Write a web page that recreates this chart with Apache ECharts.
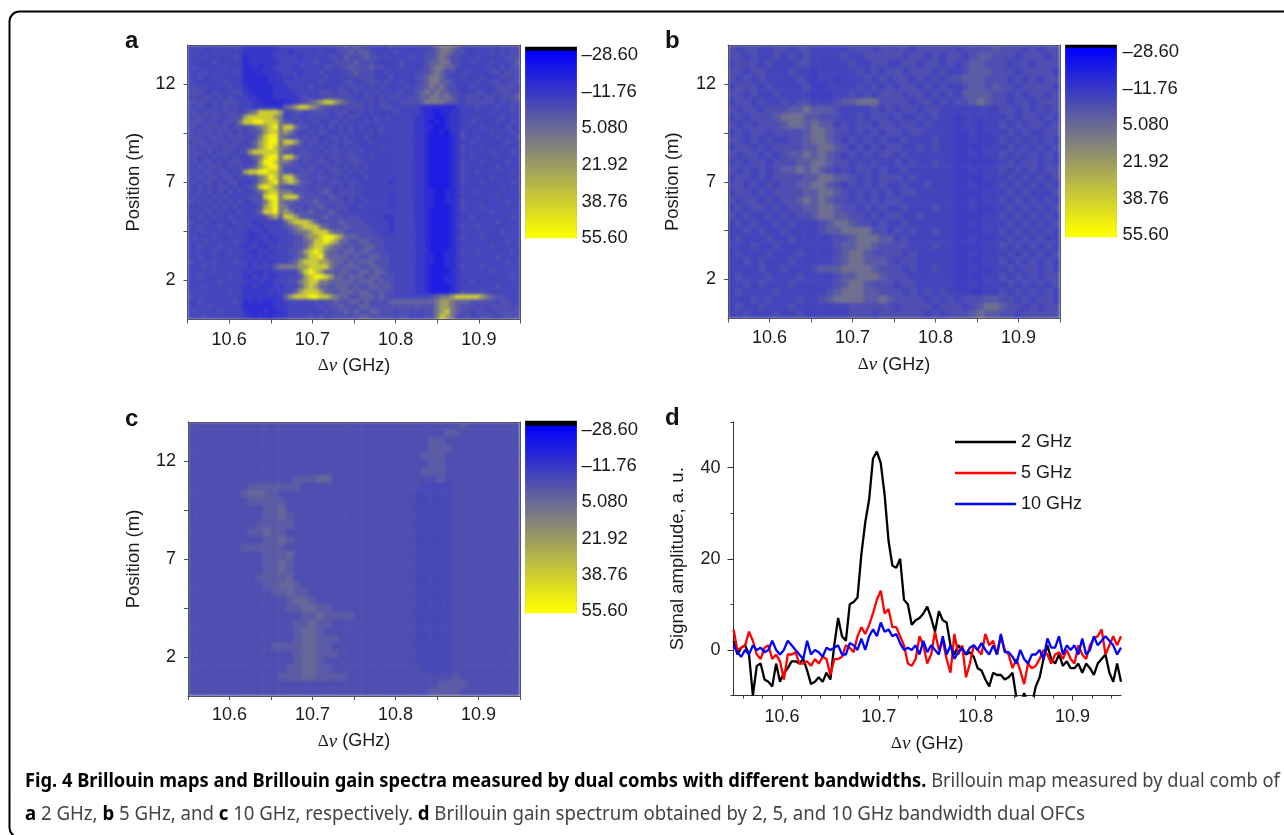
<!DOCTYPE html>
<html><head><meta charset="utf-8">
<style>html,body{margin:0;padding:0;background:#fff}#c{width:1284px;height:835px}</style>
<script src="https://cdn.jsdelivr.net/npm/echarts@6/dist/echarts.min.js"></script>
</head><body><div id="c"></div>
<script>
// Heat level lookups: digit in a map row -> value on the colour scale
const levelsA = [-21,-16,-12,-8,-4,2,10,22,38,52];
const levelsB = [-21,-16,-10,-8,-4,0,7,22,38,52];
const levelsC = [-21,-16,-10,-6.5,-4,0,4,22,38,52];
const mapA = [
"33433334343 22222223333 33333334454 54433334333 33334566654 33434334344",
"34333433333 22222233323 33334333445 45543333433 33344566544 33333434344",
"33343333343 12222233333 23333344354 44544343333 43344565443 33433333444",
"33333433333 12222223333 33343334444 54443333343 33345566443 34333433345",
"34333334333 11212233332 33333443445 44454433343 33345665543 33334334344",
"33343333343 11122223333 23334333344 54443343333 33445654433 43333443444",
"33433433333 11111222323 33333433434 44443334333 34456654334 33343334434",
"43333334333 11111222333 33334333344 33444343343 33456655433 33433443344",
"34343333433 21111122233 33433333434 44343433334 34456564433 34333344443",
"44433433344 22111122223 33334443443 43434343343 34565655443 33443344434",
"34344343433 32211122222 34333444444 33443434433 44556656543 44434434445",
"44443434443 33221111112 34567887654 44343443344 44566665543 44444434344",
"43433434343 33222221567 88765444344 44343444333 33211111123 33433343343",
"44344434443 45688887334 43344434443 34343333433 33211011223 33333433343",
"34443443444 78888876334 33434433434 43334343333 32211001223 33433334333",
"44434434446 88998886443 43343344343 33434333333 32210101223 34333343343",
"44344444344 44567896886 44334343434 34333433333 32211001223 33343333433",
"43444344434 34457886764 33434433434 33343433333 32210010224 33333433343",
"44434443444 43468996544 34343344343 33433333333 32210000124 33433343334",
"34443444344 34578996887 53443434344 33343333333 32210000123 34333333433",
"44344434443 44578986654 43434344343 43333433333 32210000124 33343334333",
"34434344434 47888886443 44343434434 34333333333 32210000124 33333433343",
"44343434343 34568996886 44434344344 43343333333 32210000123 34333343333",
"34344343444 33479986654 34344434434 44333333333 32210000124 33343333433",
"43434443434 34578996444 43443444343 43433333333 32210000124 33333343333",
"34344344343 78899886443 44434344434 34333333333 32210000124 33433333343",
"43434434434 34467986886 44344434343 33433333333 32210000124 33333433333",
"34344343443 33467896787 54434344434 43333332333 32210000124 33343333343",
"43434344343 34589875434 44344443434 34333333333 32210000123 33333334333",
"33434343434 33457886664 44434543444 43333333333 32211001124 33433333333",
"34343434333 34448996888 54444354434 34333332333 32211001123 33333343333",
"43434343434 33446896554 44454444434 33433333333 32211001124 33333333433",
"33343434343 33347896644 43445434443 34333332333 32211000124 33343333333",
"34334343334 33458896764 44544454343 33333333333 32210000123 33333433333",
"33433433433 33334675887 54444544434 43333322333 32210000123 34333333343",
"43343333343 33233333578 88754444544 44333332333 32210000123 33333343333",
"33433343334 33323333456 78886544454 44433332333 32210000124 33433333333",
"33343333433 32332333345 66788865544 44443332333 32210000123 33333334333",
"34333433333 32233233334 46778998755 54444333333 32210000124 33343333333",
"33343333343 32323323334 45688987554 45544433333 32210000123 33333333433",
"33433343333 23322333334 45788765545 44554433333 32210000123 33333433333",
"33333433433 32233233344 57898655455 45544433333 32210001124 33433333343",
"33433333333 23232333334 56889655554 54455443333 32211001123 33333343333",
"43333433343 32323233345 78887765545 45554443333 32211001123 33333333433",
"33343333333 32333356666 77888865455 54455443333 32210001124 33343333333",
"33333433333 23223233333 68987554554 45545543333 32210000123 33333433333",
"33433333433 22323223333 47899875545 55455444333 32210001123 33333333343",
"33333343333 32232233344 67886655555 45554544333 32210001123 34333333333",
"33343333333 22322232333 57875545554 54455454333 32210000123 33333343333",
"33333333433 22222323335 78887554555 45544544333 32210000124 33343333333",
"43333333333 22222222578 88998876554 45554543333 33334566788 88876544333",
"33433333343 12121122333 33343445445 54544445555 55555677655 54444434433",
"33334333333 11111122233 33334344544 45544444444 44444677654 44343444434",
"34333343333 21112112233 33333434454 54455444344 34344678654 43444344444",
"33343333333 22121122233 33434344444 45544444344 33344687643 43344434444"
];
const mapB = [
"43443344344 33333444344 44344444344 44544434344",
"44343343434 33334334444 43443434434 55444344434",
"34443433344 33333433443 34434434345 54443443444",
"44344333433 23333343434 43444343345 55444344443",
"43434333343 23323334343 44343434455 54443434344",
"34443433334 22333343434 34434343345 54544344443",
"44343343333 22233434344 43443434355 55443434434",
"34434334344 33345566644 44344343445 65443443444",
"43443444556 55543333434 34434433333 33344343434",
"34344456665 54443343443 43343433233 33334344343",
"43434445665 65534344344 34434333233 23343434434",
"34344344445 66544343434 43443333223 23334343344",
"44343433445 66543434343 34333433223 22343434343",
"34434344445 56654343434 43343433222 23334343434",
"43443434556 56543434344 34333333223 23343434343",
"34344344455 66544343433 43433433222 22334344343",
"43434345565 65434344343 34333333223 23343434344",
"34434344445 56655434344 43433333222 23334343434",
"44343434455 66543434343 34334333223 22343434343",
"34434344445 56654343434 34433333222 23334343334",
"43443434456 56544343434 43333333223 23343434343",
"34344343445 56654434343 34333433223 22334343434",
"43433434344 56655443434 43343333222 23343434343",
"34343343433 34566544343 34333333223 23334343434",
"33434334333 34556666443 43433433222 23343434343",
"34333433433 33344566655 34333333223 22334343433",
"33343343333 33345566544 44333433222 23343434343",
"34333433343 33345665444 43433333223 23334343434",
"33434333433 33345665554 34433333222 23343434343",
"33334334333 45556666544 43433433223 22334344343",
"34333433343 33345566654 44333333222 23343434344",
"33434333433 33345665444 34433333223 23334343434",
"34333343333 33456665544 43434343322 23343434343",
"33343433343 34566665565 44443434344 45544343443",
"34334333433 33333444444 34444344434 56654434344",
"33433343343 33333444344 44443434445 65544344444"
];
const mapC = [
"44444444444 44444444444 44444444444 44454444444",
"44444444444 44444444444 44444444444 45544444444",
"44444444444 44444444444 44444444445 54444444444",
"44444444444 44444444444 44444444445 55444444444",
"44444444444 44444444444 44444444455 54444444444",
"44444444444 44444444444 44444444445 54444444444",
"44444444444 44444444444 44444444455 54444444444",
"44444444444 44455566444 44444444444 54444444444",
"44444444555 55554444444 44444444433 33444444444",
"44444445665 54444444444 44444444333 33444444444",
"44444444555 55444444444 44444444333 33444444444",
"44444444445 56444444444 44444444333 33444444444",
"44444444445 56544444444 44444444333 33444444444",
"44444444455 55544444444 44444444333 33444444444",
"44444444556 55444444444 44444444333 33444444444",
"44444444445 56544444444 44444444333 33444444444",
"44444445555 55444444444 44444444333 33444444444",
"44444444445 55644444444 44444444333 33444444444",
"44444444445 56544444444 44444444333 33444444444",
"44444444445 56544444444 44444444333 33444444444",
"44444444455 55644444444 44444444333 33444444444",
"44444444445 56654444444 44444444333 33444444444",
"44444444444 55655444444 44444444333 33444444444",
"44444444444 44566544444 44444444333 33444444444",
"44444444444 44556655444 44444444333 33444444444",
"44444444444 44445565555 44444444333 33444444444",
"44444444444 44455655444 44444444333 33444444444",
"44444444444 44456654444 44444444333 33444444444",
"44444444444 44456655544 44444444333 33444444444",
"44444444444 55556655444 44444444333 33444444444",
"44444444444 44456655544 44444444333 33444444444",
"44444444444 44456654444 44444444333 33444444444",
"44444444444 44556655444 44444444433 33444444444",
"44444444444 45556655554 44444444444 44544444444",
"44444444444 44444444444 44444444444 55554444444",
"44444444444 44444444444 44444444445 55544444444"
];
const positionTicks = [2,4.5,7,9.5,12];
const positionLabels = [2,7,12];
const freqTicks = [10.55,10.6,10.65,10.7,10.75,10.8,10.85,10.9,10.95];
const freqLabels = [10.6,10.7,10.8,10.9];
const freqMinorTicks = [10.56,10.58,10.6,10.62,10.64,10.66,10.68,10.7,10.72,10.74,10.76,10.78,10.8,10.82,10.84,10.86,10.88,10.9,10.92,10.94];
const colorbarTicks = [-28.6,-11.76,5.08,21.92,38.76,55.6];
const colorbarLabels = ['–28.60','–11.76','5.080','21.92','38.76','55.60'];
const spectrumX0 = 10.55, spectrumStep = 0.004;
const gain2GHz = [2,-1,0.5,1,-1,-10,-3.5,-3,-6.5,-7,-8,-3,-7,-5,-4,-2.5,-2.5,-3,-2,-4.5,-7.5,-7,-6,-7,-5,-6.5,1,7,3,2,10,10.5,11.5,21,28,33,42,43.5,41,34,24,18.5,18,20,11,10,5.5,6.5,7,8,9.5,7,4,8.5,6.5,6,1,-1,1,0,-1,-0.5,-1.5,-4,-4.5,-6.5,-8,-5,-5.5,-5.5,-6.5,-6,-5,-10.5,-12,-9.5,-11.5,-12,-8,-6,-2,1,-2,-3,-1,-3.5,-2.5,-4,-4,-3,-5,-3,-4,-5.5,-3,-2,-1,-5,-7,-3,-7];
const gain5GHz = [4.5,0,0.5,1,4,2,-1,-2,0.5,1,-2,-1,-2.5,-6.5,-1,-1,-0.5,-3,-3,-2.5,-3.5,-2,-3,-1.5,-2,-5.5,-2,-2,-1.5,1,0.5,-0.5,3,5,3.5,5.5,8,11,13,8,9,5,5,3,1,-3,-3.5,-2,3,1,-3,-1,4,0,2,-2,-5,3.5,-1,1,-6,-3,1,0,-1,3.5,1,2,-1,3,0,-1,-4,-2,-4.5,-7.5,-3,-4,-3.5,-2,0,-1,-3,-1,-0.5,-2,0,-2,-3,1,-1,-2,1,2.5,3,4.5,-1,1,3,1,3];
const gain10GHz = [1,-0.5,-1.5,0,-1,1,0,0.5,-0.5,0,2,0,-1,0,2,1,0,-1,-2,2,-1,0,-0.5,-1.5,0.5,0,0.5,1,-1,-1,1.5,1,0,2.5,0,3,4.5,3,6,4,4.5,3,3.5,1.5,0,0.5,0,1,-1,2,-0.5,1,0,-1,3,-1,1,-2,-0.5,0.5,-1,0.5,1,0,1.5,0,-1,1,-1,3.5,-0.5,-0.5,-1.5,-3,0,-2,-3,-1,-1,0,-2,2.5,0.5,0.5,3,-1,1,0,1,-1,2.5,-1,0,3,1,2,3,2,1,-1,0.5];

const FONT='Liberation Sans', INK='#1a1a1a', FRAME='#555', FS=18, FSY=18.5;
const nameRich={s:{fontFamily:'Liberation Serif',fontSize:17,color:INK},i:{fontFamily:'Liberation Serif',fontStyle:'italic',fontSize:19,color:INK},t:{fontFamily:FONT,fontSize:FS,color:INK}};
const AXIS_NAME='{s|Δ}{i|ν}{t| (GHz)}';
const grid=[],xAxis=[],yAxis=[],series=[];
const levelsOf=(min,max,n)=>Array.from({length:n},(_,i)=>min+(i+.5)*(max-min)/n);
const offAxis=(g,pos,cats)=>({type:'category',gridIndex:g,position:pos,data:cats,zlevel:1,
  axisLine:{show:true,onZero:false,lineStyle:{color:FRAME,width:1}},axisTick:{show:false},axisLabel:{show:false},splitLine:{show:false}});
function heatPanel(rows,lookup,box,labelMargin,xNameGap,yNameGap){
  const clean=rows.map(r=>r.replace(/ /g,''));
  const nc=clean[0].length,nr=clean.length,g=grid.length;
  grid.push({left:box[0],top:box[1],width:box[2],height:box[3]});
  const xi=xAxis.length,yi=yAxis.length;
  xAxis.push(offAxis(g,'top',Array.from({length:nc},(_,i)=>i)));
  yAxis.push(Object.assign(offAxis(g,'right',Array.from({length:nr},(_,i)=>i)),{inverse:true}));
  xAxis.push({type:'value',gridIndex:g,position:'bottom',min:10.55,max:10.95,zlevel:1,
    axisLine:{show:true,onZero:false,lineStyle:{color:FRAME}},splitLine:{show:false},
    axisTick:{show:true,length:4,customValues:freqTicks,lineStyle:{color:FRAME}},
    axisLabel:{show:true,customValues:freqLabels,margin:labelMargin,formatter:v=>v.toFixed(1),fontFamily:FONT,fontSize:FS,color:INK},
    name:AXIS_NAME,nameLocation:'middle',nameGap:xNameGap,nameTextStyle:{fontFamily:FONT,fontSize:FS,color:INK,rich:nameRich}});
  yAxis.push({type:'value',gridIndex:g,position:'left',min:0,max:14,zlevel:1,
    axisLine:{show:true,onZero:false,lineStyle:{color:FRAME}},splitLine:{show:false},
    axisTick:{show:true,length:4,customValues:positionTicks,lineStyle:{color:FRAME}},
    axisLabel:{show:true,customValues:positionLabels,margin:12,fontFamily:FONT,fontSize:FS,color:INK},
    name:'Position (m)',nameLocation:'middle',nameGap:yNameGap,nameTextStyle:{fontFamily:FONT,fontSize:FSY,color:INK}});
  const data=[];
  clean.forEach((r,ri)=>{for(let c=0;c<r.length;c++)data.push([c,ri,lookup[+r[c]]]);});
  series.push({type:'heatmap',name:'map'+g,zlevel:0,xAxisIndex:xi,yAxisIndex:yi,data,progressive:0,silent:true,itemStyle:{borderWidth:0}});
}
function colorbar(box,vTop,vBottom,margin){
  const g=grid.length,n=box[3],levels=levelsOf(vTop,vBottom,n);
  grid.push({left:box[0],top:box[1],width:box[2],height:box[3]});
  const xi=xAxis.length,yi=yAxis.length;
  const frame={color:'#aaa',width:1};
  xAxis.push({type:'category',gridIndex:g,position:'bottom',zlevel:1,data:['bar'],axisLine:{show:false},axisTick:{show:false},axisLabel:{show:false},splitLine:{show:false}});
  yAxis.push({type:'category',gridIndex:g,position:'left',inverse:true,zlevel:1,data:levels.map((_,i)=>i),axisLine:{show:true,onZero:false,lineStyle:frame},axisTick:{show:false},axisLabel:{show:false},splitLine:{show:false}});
  yAxis.push({type:'value',gridIndex:g,position:'right',inverse:true,zlevel:1,min:vTop,max:vBottom,
    axisLine:{show:true,onZero:false,lineStyle:frame},axisTick:{show:false},splitLine:{show:false},
    axisLabel:{show:true,customValues:colorbarTicks,margin,fontFamily:FONT,fontSize:FSY,color:INK,
      formatter:v=>colorbarLabels[colorbarTicks.indexOf(v)]}});
  series.push({type:'heatmap',name:'bar'+g,zlevel:1,xAxisIndex:xi,yAxisIndex:yi,data:levels.map((v,i)=>[0,i,v]),progressive:0,silent:true,itemStyle:{borderWidth:0}});
}
const panelBoxes=[[187.5,45,333,274.5],[728,45,332,273.5],[188,422,332,274]];
heatPanel(mapA,levelsA,panelBoxes[0],12,37,44);
heatPanel(mapB,levelsB,panelBoxes[1],11,37,46);
heatPanel(mapC,levelsC,panelBoxes[2],10,36,45);
colorbar([525.5,47,51,191],-32.3,55.6,5);
colorbar([1065.5,45,51,192],-31.8,56.5,6);
colorbar([525.5,421,51,192],-32.7,56.5,5);
const heatCount=series.length;

// panel d
const gd=grid.length;
grid.push({left:733.5,top:422,width:387.5,height:273.5});
const dx=xAxis.length,dy=yAxis.length;
const dLine={show:true,onZero:false,lineStyle:{color:'#333',width:1}};
xAxis.push({type:'value',gridIndex:gd,position:'bottom',min:10.55,max:10.95,zlevel:1,axisLine:dLine,splitLine:{show:false},
  axisTick:{show:true,length:5,customValues:freqLabels,lineStyle:{color:'#333'}},
  axisLabel:{show:true,customValues:freqLabels,margin:13,formatter:v=>v.toFixed(1),fontFamily:FONT,fontSize:FS,color:INK},
  name:AXIS_NAME,nameLocation:'middle',nameGap:39,nameTextStyle:{fontFamily:FONT,fontSize:FS,color:INK,rich:nameRich}});
xAxis.push({type:'value',gridIndex:gd,position:'bottom',min:10.55,max:10.95,zlevel:1,axisLine:{show:false,onZero:false},splitLine:{show:false},axisLabel:{show:false},
  axisTick:{show:true,length:3,customValues:freqMinorTicks,lineStyle:{color:'#333'}}});
yAxis.push({type:'value',gridIndex:gd,position:'left',min:-10,max:50,zlevel:1,axisLine:dLine,splitLine:{show:false},
  axisTick:{show:true,length:6,customValues:[0,20,40],lineStyle:{color:'#333'}},
  axisLabel:{show:true,customValues:[0,20,40],margin:13,fontFamily:FONT,fontSize:FS,color:INK},
  name:'Signal amplitude, a. u.',nameLocation:'middle',nameGap:46,nameTextStyle:{fontFamily:FONT,fontSize:FSY,color:INK}});
yAxis.push({type:'value',gridIndex:gd,position:'left',min:-10,max:50,zlevel:1,axisLine:{show:false,onZero:false},splitLine:{show:false},axisLabel:{show:false},
  axisTick:{show:true,length:3,customValues:[-10,10,30,50],lineStyle:{color:'#333'}}});
[['2 GHz',gain2GHz,'#000000'],['5 GHz',gain5GHz,'#ff0000'],['10 GHz',gain10GHz,'#0000ff']].forEach(([name,vals,color])=>{
  series.push({type:'line',name,zlevel:1,xAxisIndex:dx,yAxisIndex:dy,symbol:'none',clip:true,silent:true,
    data:vals.map((v,i)=>[spectrumX0+i*spectrumStep,v]),lineStyle:{color,width:2.3},itemStyle:{color}});
});

const label=(t,x,y)=>({type:'text',zlevel:1,x,y,silent:true,style:{text:t,font:'bold 24px "Liberation Sans"',fill:'#111',textVerticalAlign:'middle'}});
const capRich={b:{font:'bold 19px "Noto Sans"',fill:'#000'}};
const option={
  animation:false,backgroundColor:'transparent',
  grid,xAxis,yAxis,series,
  visualMap:{show:false,type:'continuous',min:-30.5,max:55.6,range:[-30.4,55.6],dimension:2,seriesIndex:Array.from({length:heatCount},(_,i)=>i),
    inRange:{color:['#0000ff','#ffff00']},outOfRange:{color:'#000000'}},
  legend:{show:true,zlevel:1,left:950,top:428,orient:'vertical',itemWidth:61,itemHeight:20,itemGap:13,icon:'path://M0 0H100V4H0Z',
    data:['2 GHz','5 GHz','10 GHz'],textStyle:{fontFamily:FONT,fontSize:FS,color:INK},selectedMode:false},
  graphic:[
    {type:'rect',zlevel:1,silent:true,shape:{x:9.5,y:11.5,width:1400,height:826,r:10},style:{fill:'none',stroke:'#000',lineWidth:2}},
    label('a',125,41),label('b',665,41),label('c',125,419),label('d',665,418),
    {type:'text',zlevel:1,silent:true,x:25,y:782,scaleX:0.962,style:{text:'{b|Fig. 4 Brillouin maps and Brillouin gain spectra measured by dual combs with different bandwidths.} Brillouin map measured by dual comb of',
      font:'19px "Noto Sans"',fill:'#444',textVerticalAlign:'middle',rich:capRich}},
    {type:'text',zlevel:1,silent:true,x:25,y:815,scaleX:0.98,style:{text:'{b|a} 2 GHz, {b|b} 5 GHz, and {b|c} 10 GHz, respectively. {b|d} Brillouin gain spectrum obtained by 2, 5, and 10 GHz bandwidth dual OFCs',
      font:'19px "Noto Sans"',fill:'#444',textVerticalAlign:'middle',rich:capRich}}
  ]
};
const chart=echarts.init(document.getElementById('c'),null,{renderer:'canvas'});
chart.setOption(option);
// soften the map layer only (the reference maps are smooth bitmaps); clip it to the plot boxes
const heatLayer=document.querySelector('canvas[data-zr-dom-id="zr_0"]');
if(heatLayer){
  heatLayer.style.filter='blur(1.7px)';
  const p=panelBoxes.map(b=>`M${b[0]} ${b[1]}h${b[2]}v${b[3]}h${-b[2]}z`).join(' ');
  heatLayer.style.clipPath=`path('${p}')`;
}
</script></body></html>
